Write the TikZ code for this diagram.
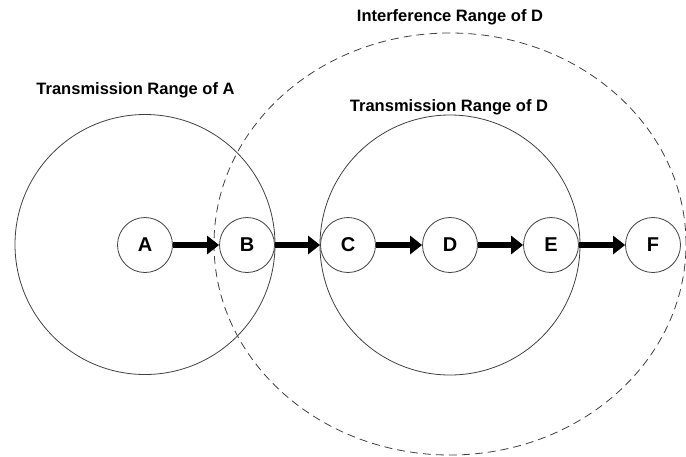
\documentclass[tikz,border=0pt]{standalone}
\usepackage{fontspec}
\setmainfont{Liberation Sans}
\usetikzlibrary{arrows.meta}

\tikzset{
  station/.style={circle, draw=black!75, line width=0.8pt, minimum size=55pt, inner sep=0pt, font=\bfseries\fontsize{20}{22}\selectfont},
  hop/.style={line width=6.5pt, -{Triangle[length=12pt, width=18pt]}},
  rangelabel/.style={font=\bfseries\fontsize{16.5}{19}\selectfont}
}

\begin{document}
\begin{tikzpicture}[x=1pt, y=-1pt]
	\useasboundingbox (0,0) rectangle (686,456);

	\node[station] (A) at (145,245) {A};
	\node[station] (B) at (247,245) {B};
	\node[station] (C) at (348,245) {C};
	\node[station] (D) at (450,245) {D};
	\node[station] (E) at (551,245) {E};
	\node[station] (F) at (653,245) {F};

	\draw[black!75, line width=0.8pt] (145,244.5) circle[radius=130pt];
	\draw[black!75, line width=0.8pt] (D) circle[radius=130pt];
	\draw[black!75, line width=0.8pt, dash pattern=on 8pt off 5pt] (450,244) ellipse[x radius=236pt, y radius=211pt];

	\draw[hop] (A) -- (B);
	\draw[hop] (B) -- (C);
	\draw[hop] (C) -- (D);
	\draw[hop] (D) -- (E);
	\draw[hop] (E) -- (F);

	\node[rangelabel] (ia) at (135.5,90) {Transmission Range of A};
	\node[rangelabel] (td) at (449,107) {Transmission Range of D};
	\node[rangelabel] (id) at (450,17) {Interference Range of D};
\end{tikzpicture}
\end{document}
